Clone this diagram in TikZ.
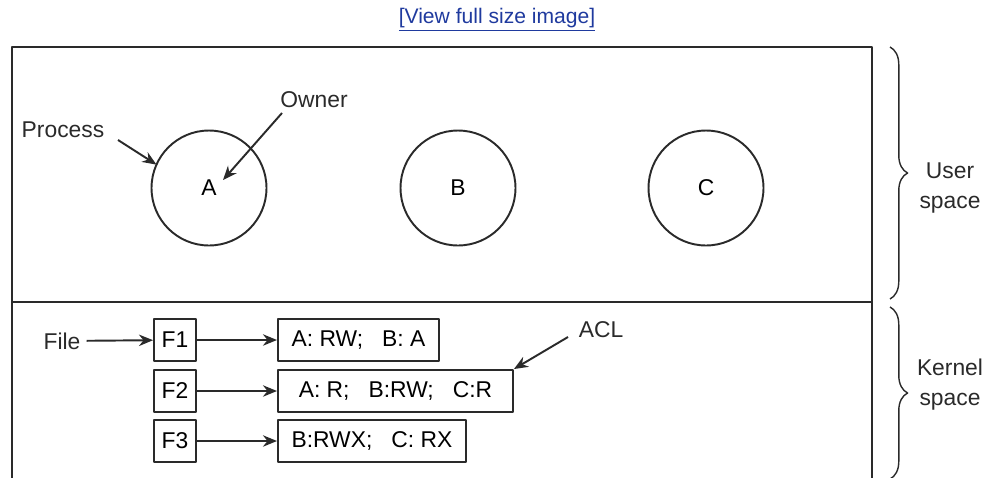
\documentclass[tikz,border=0pt]{standalone}
\usepackage{fontspec}
\setmainfont{Liberation Sans}
\usetikzlibrary{arrows.meta,decorations.pathreplacing}
\definecolor{linkblue}{HTML}{1F3A9E}
\definecolor{ink}{HTML}{2A2A2A}

\begin{document}
\begin{tikzpicture}[x=0.02cm, y=-0.02cm, font=\fontsize{13pt}{15pt}\selectfont, line join=round, >={Stealth[length=8pt,width=6.5pt]},
	proc/.style={circle, draw=ink, line width=1.1pt, minimum size=2.3cm, inner sep=0pt, outer sep=0pt},
	fbox/.style={draw=ink, line width=1.1pt, minimum width=0.84cm, minimum height=0.84cm, inner sep=0pt},
	aclbox/.style={draw=ink, line width=1.1pt, minimum height=0.84cm, anchor=west, inner sep=0pt},
	pointer/.style={->, draw=ink, line width=1.1pt},
	side/.style={align=center, text=ink, font=\fontsize{13pt}{17pt}\selectfont}]
	\useasboundingbox (0,0) rectangle (993,477);
	% link on top
	\node[text=linkblue, font=\fontsize{12pt}{14pt}\selectfont] (link) at (497,20) {\underline{[View full size image]}};
	% frame, user and kernel part
	\draw[ink, line width=1.3pt] (12,480) -- (12,47) -- (872,47) -- (872,480);
	\draw[ink, line width=1.3pt] (12,302) -- (872,302);
	\draw[ink, line width=0.8pt, decorate, decoration={brace, amplitude=10pt}] (890,47) -- (890,299);
	\draw[ink, line width=0.8pt, decorate, decoration={brace, amplitude=10pt}] (890,307) -- (890,479);
	\node[side] (user) at (950,188) {User\\space};
	\node[side] (kern) at (950,385) {Kernel\\space};
	% processes
	\node[proc] (pA) at (209,188) {A};
	\node[proc] (pB) at (458,188) {B};
	\node[proc] (pC) at (706,188) {C};
	\node[text=ink] (procs) at (63,130) {Process};
	\node[text=ink] (owner) at (314,100) {Owner};
	\coordinate (procs-tail) at (118,140);
	\coordinate (owner-tail) at (282,113);
	\coordinate (owner-tip) at (223,180);
	\draw[pointer] (procs-tail) -- (pA.156);
	\draw[pointer] (owner-tail) -- (owner-tip);
	% files and their lists
	\node[text=ink] (file) at (62,341) {File};
	\node[fbox] (f1) at (175,340) {F1};
	\node[fbox] (f2) at (175,391) {F2};
	\node[fbox] (f3) at (175,441) {F3};
	\node[aclbox, minimum width=3.22cm] (acl1) at (277,340) {A: RW;\ \ \ B: A};
	\node[aclbox, minimum width=4.7cm] (acl2) at (277,391) {A: R;\ \ \ B:RW;\ \ \ C:R};
	\node[aclbox, minimum width=3.76cm] (acl3) at (277,441) {B:RWX;\ \ \ C: RX};
	\node[text=ink] (acl) at (601,330) {ACL};
	\coordinate (acl-tail) at (568,337);
	\draw[pointer] (file) -- (f1);
	\draw[pointer] (f1) -- (acl1);
	\draw[pointer] (f2) -- (acl2);
	\draw[pointer] (f3) -- (acl3);
	\draw[pointer] (acl-tail) -- (acl2.north east);
\end{tikzpicture}
\end{document}
